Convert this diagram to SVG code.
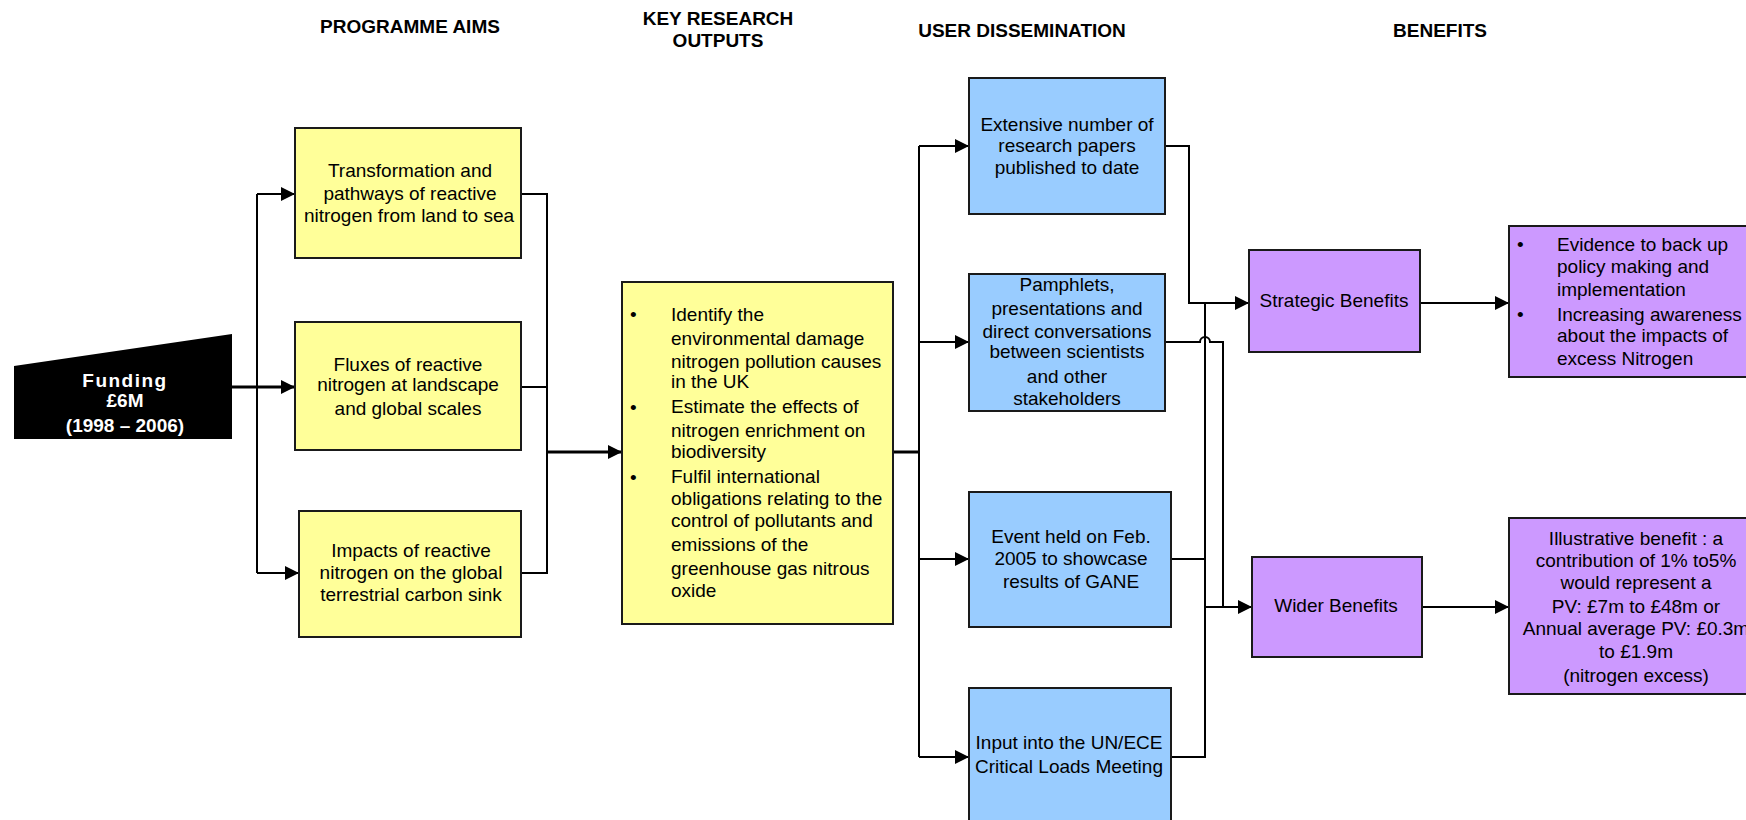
<svg xmlns="http://www.w3.org/2000/svg" width="1746" height="820" viewBox="0 0 1746 820">
<style>
text{font-family:"Liberation Sans",Arial,sans-serif;font-size:19px;fill:#000}
.h{font-weight:bold}
.c{text-anchor:middle}
.w{fill:#fff;font-weight:bold}
.y{fill:#FFFF99;stroke:#1a1a1a;stroke-width:2}
.b{fill:#99CCFF;stroke:#1a1a1a;stroke-width:2}
.p{fill:#CC99FF;stroke:#1a1a1a;stroke-width:2}
.ln{fill:none;stroke:#000;stroke-width:2}
.thick{stroke-width:3}
.ar{marker-end:url(#ah)}
.bul{font-size:19px}
</style>
<defs>
<marker id="ah" viewBox="0 0 14 14" refX="14" refY="7" markerWidth="14" markerHeight="14" markerUnits="userSpaceOnUse" orient="auto">
<path d="M0,0 L14,7 L0,14 Z" fill="#000"/>
</marker>
</defs>
<rect width="1746" height="820" fill="#fff"/>

<g id="headers">
<text class="h c" x="410" y="33">PROGRAMME AIMS</text>
<text class="h c" x="718" y="25">KEY RESEARCH</text>
<text class="h c" x="718" y="47">OUTPUTS</text>
<text class="h c" x="1022" y="37">USER DISSEMINATION</text>
<text class="h c" x="1440" y="37">BENEFITS</text>
</g>

<g id="connectors">
<path class="ln thick ar" d="M232,387 H295"/>
<path class="ln" d="M257,194 V573"/>
<path class="ln ar" d="M257,194 H295"/>
<path class="ln ar" d="M257,573 H299"/>
<path class="ln" d="M521,194 H547 V573 H521 M521,387 H547"/>
<path class="ln thick ar" d="M547,452 H622"/>
<path class="ln thick" d="M893,452 H919"/>
<path class="ln" d="M919,146 V757"/>
<path class="ln ar" d="M919,146 H969"/>
<path class="ln ar" d="M919,342 H969"/>
<path class="ln ar" d="M919,559 H969"/>
<path class="ln ar" d="M919,757 H969"/>
<path class="ln ar" d="M1165,146 H1189 V303 H1249"/>
<path class="ln" d="M1205,303 V757 H1171 M1171,559 H1205"/>
<path class="ln ar" d="M1205,607 H1252"/>
<path class="ln" d="M1165,342 H1200 A5,5 0 0 1 1210,342 H1223 V607"/>
<path class="ln ar" d="M1420,303 H1509"/>
<path class="ln ar" d="M1422,607 H1509"/>
</g>

<g id="funding">
<polygon points="14,366 232,334 232,439 14,439" fill="#000"/>
<text class="w c" x="125" y="387" style="letter-spacing:1.5px">Funding</text>
<text class="w c" x="125" y="407">£6M</text>
<text class="w c" x="125" y="432">(1998 – 2006)</text>
</g>

<g id="aim1">
<rect class="y" x="295" y="128" width="226" height="130"/>
<text class="c" x="410" y="177">Transformation and</text>
<text class="c" x="410" y="200">pathways of reactive</text>
<text class="c" x="409" y="222">nitrogen from land to sea</text>
</g>

<g id="aim2">
<rect class="y" x="295" y="322" width="226" height="128"/>
<text class="c" x="408" y="371">Fluxes of reactive</text>
<text class="c" x="408" y="391">nitrogen at landscape</text>
<text class="c" x="408" y="415">and global scales</text>
</g>

<g id="aim3">
<rect class="y" x="299" y="511" width="222" height="126"/>
<text class="c" x="411" y="557">Impacts of reactive</text>
<text class="c" x="411" y="579">nitrogen on the global</text>
<text class="c" x="411" y="601">terrestrial carbon sink</text>
</g>

<g id="outputs">
<rect class="y" x="622" y="282" width="271" height="342"/>
<text class="bul" x="630" y="321">•</text>
<text class="bul" x="630" y="414">•</text>
<text class="bul" x="630" y="484">•</text>
<text x="671" y="321">Identify the</text>
<text x="671" y="345">environmental damage</text>
<text x="671" y="368">nitrogen pollution causes</text>
<text x="671" y="388">in the UK</text>
<text x="671" y="413">Estimate the effects of</text>
<text x="671" y="437">nitrogen enrichment on</text>
<text x="671" y="458">biodiversity</text>
<text x="671" y="483">Fulfil international</text>
<text x="671" y="505">obligations relating to the</text>
<text x="671" y="527">control of pollutants and</text>
<text x="671" y="551">emissions of the</text>
<text x="671" y="575">greenhouse gas nitrous</text>
<text x="671" y="597">oxide</text>
</g>

<g id="diss1">
<rect class="b" x="969" y="78" width="196" height="136"/>
<text class="c" x="1067" y="131">Extensive number of</text>
<text class="c" x="1067" y="152">research papers</text>
<text class="c" x="1067" y="174">published to date</text>
</g>

<g id="diss2">
<rect class="b" x="969" y="274" width="196" height="137"/>
<text class="c" x="1067" y="291">Pamphlets,</text>
<text class="c" x="1067" y="315">presentations and</text>
<text class="c" x="1067" y="338">direct conversations</text>
<text class="c" x="1067" y="358">between scientists</text>
<text class="c" x="1067" y="383">and other</text>
<text class="c" x="1067" y="405">stakeholders</text>
</g>

<g id="diss3">
<rect class="b" x="969" y="492" width="202" height="135"/>
<text class="c" x="1071" y="543">Event held on Feb.</text>
<text class="c" x="1071" y="565">2005 to showcase</text>
<text class="c" x="1071" y="588">results of GANE</text>
</g>

<g id="diss4">
<rect class="b" x="969" y="688" width="202" height="150"/>
<text class="c" x="1069" y="749">Input into the UN/ECE</text>
<text class="c" x="1069" y="773">Critical Loads Meeting</text>
</g>

<g id="strategic">
<rect class="p" x="1249" y="250" width="171" height="102"/>
<text class="c" x="1334" y="307">Strategic Benefits</text>
</g>

<g id="wider">
<rect class="p" x="1252" y="557" width="170" height="100"/>
<text class="c" x="1336" y="612">Wider Benefits</text>
</g>

<g id="strategicDetail">
<rect class="p" x="1509" y="226" width="260" height="151"/>
<text class="bul" x="1517" y="251">•</text>
<text class="bul" x="1517" y="321">•</text>
<text x="1557" y="251">Evidence to back up</text>
<text x="1557" y="273">policy making and</text>
<text x="1557" y="296">implementation</text>
<text x="1557" y="321">Increasing awareness</text>
<text x="1557" y="342">about the impacts of</text>
<text x="1557" y="365">excess Nitrogen</text>
</g>

<g id="widerDetail">
<rect class="p" x="1509" y="518" width="260" height="176"/>
<text class="c" x="1636" y="545">Illustrative benefit : a</text>
<text class="c" x="1636" y="567">contribution of 1% to5%</text>
<text class="c" x="1636" y="589">would represent a</text>
<text class="c" x="1636" y="613">PV: £7m to £48m or</text>
<text class="c" x="1636" y="635">Annual average PV: £0.3m</text>
<text class="c" x="1636" y="658">to £1.9m</text>
<text class="c" x="1636" y="682">(nitrogen excess)</text>
</g>
</svg>
